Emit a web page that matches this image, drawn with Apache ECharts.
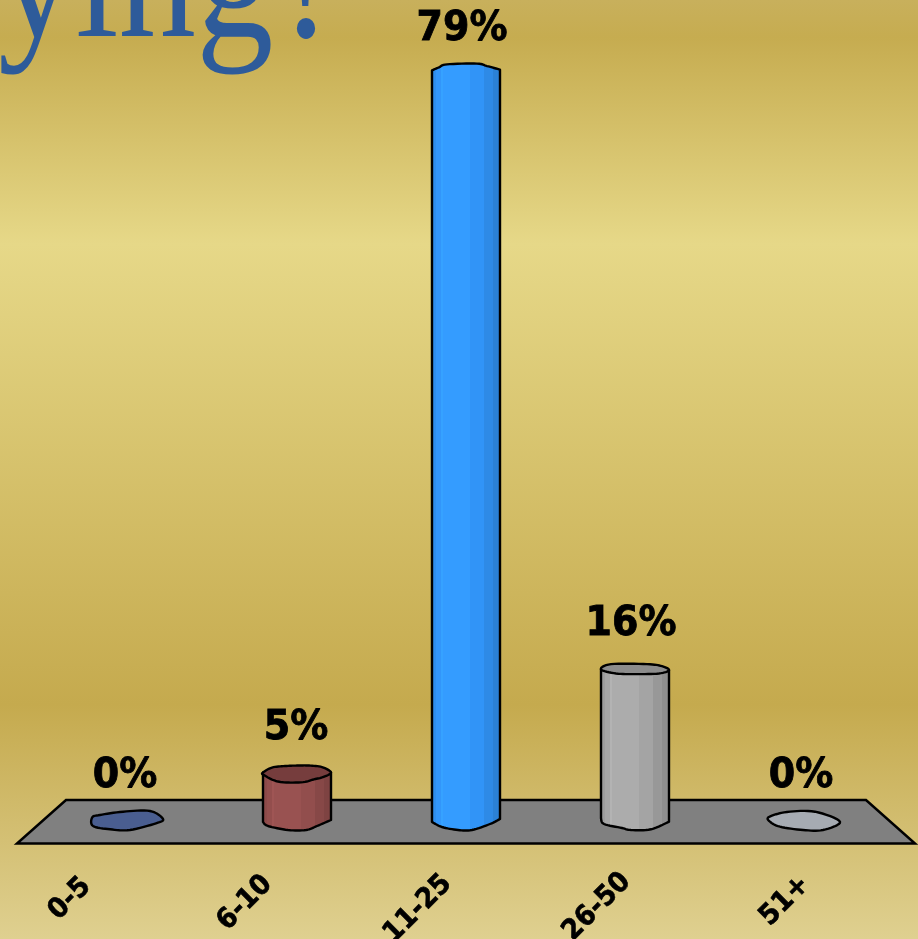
<!DOCTYPE html>
<html><head><meta charset="utf-8">
<style>html,body{margin:0;padding:0;overflow:hidden}#c{width:918px;height:939px}</style>
<script src="https://cdn.jsdelivr.net/npm/echarts@6/dist/echarts.min.js"></script>
</head><body><div id="c"></div>
<script>
const categories = ['0-5','6-10','11-25','26-50','51+'];
const percentages = [0,5,79,16,0];
const titleWord = 'ying';
const titleMark = '?';

const bodyColors = ['#4A5E90','#96504F','#3399FF','#A9A9A9','#A6ABB2'];
const capColors  = ['#4A5E90','#763D3D','#3399FF','#8C8C8C','#A6ABB2'];
const labelDx = [-3,-1,-4,-4,-3];
const labelDy = [-44.5,-45,-42.5,-44.5,-44.5];
const tickDx = [-58,-52,-48,-38,-19];
const tickDy = [78,82,88,86,80];
// hand-drawn outlines, px relative to the bar's axis point
const capTop = [
 [[-35.7,-3.7],[-28,-6],[-5,-9.3],[22,-10],[35,-2]],
 [[-34,-1],[-25,-6],[-12,-7.5],[0,-8],[12,-8],[25,-6.5],[34,-1]],
 [[-34,-1],[-27,-4],[-19,-7],[11,-7.7],[21,-5.3],[34,-1.7]],
 [[-34,0.3],[-24,-5],[12,-5],[27,-3],[34,1]],
 [[-35,-4],[-17,-9],[11,-9.3],[36,0.7]]
];
const capBottom = [
 [[28,2.3],[2,9],[-18,8.3],[-35,5]],
 [[26,3.5],[17,5.8],[4,8.8],[-19,8],[-33,1.5]],
 [],
 [[24,4.3],[1,5],[-19,4.3]],
 [[19,9],[-1,9],[-24,5.7],[-34,0.7]]
];
const baseEdge = [
 [],
 [[34,-1],[20,5],[9,9],[-9,9],[-29,5],[-34,1]],
 [[34,-2],[24,3],[6,9],[-8,9],[-24,6],[-34,1]],
 [[34,0.7],[16,8.3],[-4,9],[-13,7],[-31,3],[-34,-2.7]],
 []
];

function curve(points, closed){
  const out=[], n=points.length;
  const at=k=>closed?points[(k+n)%n]:points[Math.max(0,Math.min(n-1,k))];
  const last=closed?n:n-1;
  for(let i=0;i<last;i++){
    const p0=at(i-1),p1=at(i),p2=at(i+1),p3=at(i+2);
    for(let s=0;s<8;s++){
      const t=s/8,t2=t*t,t3=t2*t;
      const f=d=>0.5*(2*p1[d]+(p2[d]-p0[d])*t+(2*p0[d]-5*p1[d]+4*p2[d]-p3[d])*t2+(3*p1[d]-p0[d]-3*p2[d]+p3[d])*t3);
      out.push([f(0),f(1)]);
    }
  }
  if(!closed)out.push(points[n-1]);
  return out;
}
function shade(hex,f){
  const v=[1,3,5].map(i=>Math.min(255,Math.round(parseInt(hex.substr(i,2),16)*f)));
  return 'rgb('+v.join(',')+')';
}
const stripes=[[0,.93],[.07,.93],[.07,.98],[.15,.98],[.15,1.06],[.17,1.06],[.17,1.02],[.55,1.02],[.55,.97],[.76,.97],[.76,.9],[.88,.9],[.88,.84],[1,.84]];
function bodyFill(hex){
  return new echarts.graphic.LinearGradient(0,0,1,0,stripes.map(s=>({offset:s[0],color:shade(hex,s[1])})));
}

const chart = echarts.init(document.getElementById('c'),null,{renderer:'canvas'});
const titleStyle = {fill:'#2E5B9A',font:'155px "Liberation Serif"',shadowBlur:6,shadowColor:'rgba(70,60,20,.55)',shadowOffsetX:2,shadowOffsetY:4};
chart.setOption({
  animation:false,
  backgroundColor:new echarts.graphic.LinearGradient(0,0,0,1,[
    {offset:0,color:'#C8B05C'},{offset:.04,color:'#C6AC50'},{offset:.26,color:'#E6D888'},
    {offset:.75,color:'#C5AA4E'},{offset:1,color:'#DFD090'}]),
  grid:{left:43.5,right:29.5,top:14.4,bottom:118},
  xAxis:{type:'category',data:categories,show:false},
  yAxis:{type:'value',min:0,max:85,show:false},
  graphic:[
    {type:'polygon',z:0,shape:{points:[[66,800],[866,800],[915,843.5],[17,843.5]]},
     style:{fill:'#808080',stroke:'#000',lineWidth:2.5}},
    {type:'text',z:1,x:-2,y:-100,scaleY:1.15,style:Object.assign({text:titleWord},titleStyle)},
    {type:'text',z:1,x:275,y:-100,scaleY:1.15,style:Object.assign({text:titleMark},titleStyle)}
  ],
  series:[{
    type:'custom',clip:false,coordinateSystem:'cartesian2d',
    data:categories.map((c,i)=>[i,percentages[i]]),
    encode:{x:0,y:1},
    renderItem(params,api){
      const i=api.value(0),v=api.value(1);
      const top=api.coord([i,v]),base=api.coord([i,0]);
      const cx=base[0],ty=top[1],by=base[1];
      const at=(pts,y)=>pts.map(p=>[cx+p[0],y+p[1]]);
      const kids=[];
      const stroke={stroke:'#000',lineWidth:2.4,lineJoin:'round'};
      const hasCapLine=capBottom[i].length>0;
      if(v>0){
        const tl=capTop[i][0],tr=capTop[i][capTop[i].length-1];
        const upper=hasCapLine?[[cx+tl[0],ty+tl[1]],[cx+tr[0],ty+tr[1]]]:curve(at(capTop[i],ty));
        const pts=upper.concat(curve(at(baseEdge[i],by)));
        kids.push({type:'polygon',shape:{points:pts},style:Object.assign({fill:bodyFill(bodyColors[i])},stroke)});
      }
      if(hasCapLine){
        const ring=capTop[i].concat(capBottom[i]);
        kids.push({type:'polygon',shape:{points:curve(at(ring,ty),true)},style:Object.assign({fill:capColors[i]},stroke)});
      }
      kids.push({type:'text',x:cx+labelDx[i],y:ty+labelDy[i],scaleY:1.08,
        style:{text:v+'%',fill:'#000',stroke:'#000',lineWidth:0.8,font:'bold 38px "DejaVu Sans"',align:'center',verticalAlign:'middle'}});
      kids.push({type:'text',x:cx+tickDx[i],y:by+tickDy[i],rotation:Math.PI/4,scaleY:1.08,
        style:{text:categories[i],fill:'#000',stroke:'#000',lineWidth:0.6,font:'bold 26px "DejaVu Sans"',align:'center',verticalAlign:'middle'}});
      return {type:'group',children:kids};
    }
  }]
});
</script></body></html>
